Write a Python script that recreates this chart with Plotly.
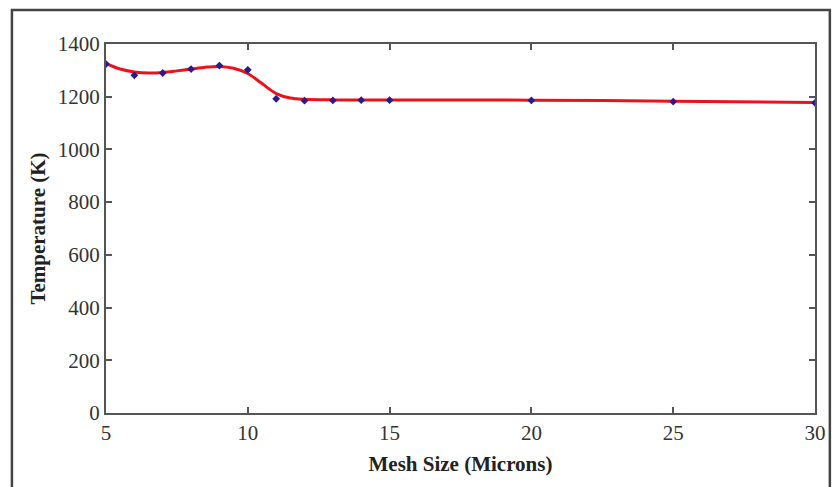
import plotly.graph_objects as go

# Measured data points
mesh_size = [5, 6, 7, 8, 9, 10, 11, 12, 13, 14, 15, 20, 25, 30]
temperature = [1324, 1281, 1290, 1305, 1318, 1302, 1192, 1185, 1186, 1187, 1187, 1186, 1181, 1177]

# Smoothed fit curve
fit_x = [5, 5.5, 6, 6.5, 7, 7.5, 8, 8.5, 9, 9.5, 10, 10.5, 11, 11.5, 12, 13, 15, 20, 25, 30]
fit_y = [1326, 1305, 1294, 1290, 1292, 1298, 1305, 1312, 1315, 1308, 1288, 1250, 1212, 1195, 1190, 1188, 1188, 1187, 1183, 1178]

x_ticks = [5, 10, 15, 20, 25, 30]
y_ticks = [0, 200, 400, 600, 800, 1000, 1200, 1400]

FONT = "Liberation Serif"

fig = go.Figure()
fig.add_trace(go.Scatter(x=fit_x, y=fit_y, mode="lines",
                         line=dict(color="#e8141b", width=3, shape="spline", smoothing=0.9),
                         showlegend=False, hoverinfo="skip"))
fig.add_trace(go.Scatter(x=mesh_size, y=temperature, mode="markers",
                         marker=dict(color="#2b1a8c", size=6, symbol="diamond"),
                         showlegend=False))

axis_common = dict(showline=True, linecolor="#555555", linewidth=2, mirror="ticks",
                   ticks="inside", ticklen=6, tickwidth=1.5, tickcolor="#555555",
                   showgrid=False, zeroline=False,
                   tickfont=dict(family=FONT, size=21, color="#333333"))

fig.update_xaxes(range=[5, 30], tickvals=x_ticks,
                 title=dict(text="<b>Mesh Size (Microns)</b>",
                            font=dict(family=FONT, size=21, color="#222222"), standoff=12),
                 **axis_common)
fig.update_yaxes(range=[0, 1400], tickvals=y_ticks,
                 title=dict(text="<b>Temperature (K)</b>",
                            font=dict(family=FONT, size=21, color="#222222"), standoff=6),
                 ticklabelstandoff=0,
                 **axis_common)

# outer frame
L, R, T, B = 106, 822, 44, 413
W, H = R - L, B - T
def px(x): return (x - L) / W
def py(y): return (B - y) / H
fig.add_shape(type="rect", xref="paper", yref="paper",
              x0=px(11), x1=px(837), y0=py(520), y1=py(10),
              line=dict(color="#444444", width=2.5), layer="below")

fig.update_layout(width=838, height=487,
                  margin=dict(l=L, r=838 - R, t=T, b=487 - B),
                  paper_bgcolor="white", plot_bgcolor="white")

fig.write_html("out.html")
